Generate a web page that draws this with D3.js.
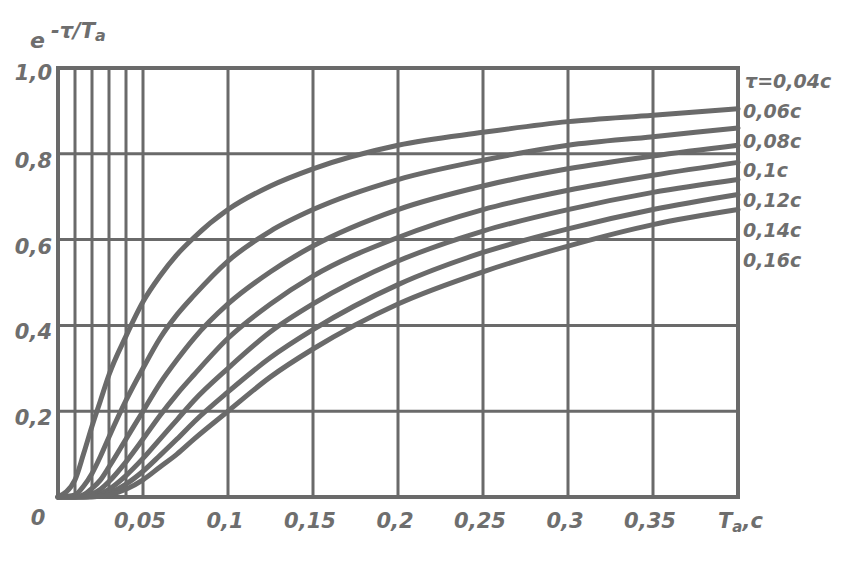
<!DOCTYPE html>
<html>
<head>
<meta charset="utf-8">
<script src="https://cdn.jsdelivr.net/npm/d3@7/dist/d3.min.js"></script>
<style>
  html, body { margin: 0; padding: 0; background: #fff; }
  svg text { font-family: "DejaVu Sans", sans-serif; font-style: italic; font-weight: bold; fill: #6e6e6e; }
</style>
</head>
<body>
<svg id="chart" width="866" height="564"></svg>
<script>
// ---- data ----
const ta = [0, 0.01, 0.015, 0.02, 0.025, 0.03, 0.04, 0.05, 0.06, 0.07, 0.08, 0.1, 0.125, 0.15, 0.2, 0.25, 0.3, 0.35, 0.4];
const tau004 = [0, 0.04, 0.10, 0.165, 0.225, 0.285, 0.375, 0.455, 0.515, 0.565, 0.605, 0.67, 0.725, 0.765, 0.82, 0.85, 0.875, 0.89, 0.905];
const tau006 = [0, 0.005, 0.025, 0.055, 0.095, 0.14, 0.225, 0.30, 0.37, 0.425, 0.47, 0.55, 0.62, 0.67, 0.74, 0.785, 0.82, 0.84, 0.86];
const tau008 = [0, 0, 0.005, 0.02, 0.04, 0.07, 0.135, 0.20, 0.265, 0.32, 0.37, 0.45, 0.525, 0.585, 0.67, 0.725, 0.765, 0.795, 0.82];
const tau010 = [0, 0, 0.001, 0.007, 0.018, 0.036, 0.082, 0.135, 0.19, 0.24, 0.285, 0.37, 0.45, 0.515, 0.605, 0.67, 0.715, 0.75, 0.78];
const tau012 = [0, 0, 0, 0.002, 0.008, 0.018, 0.05, 0.09, 0.135, 0.18, 0.225, 0.30, 0.385, 0.45, 0.55, 0.62, 0.67, 0.71, 0.74];
const tau014 = [0, 0, 0, 0.001, 0.004, 0.009, 0.03, 0.06, 0.097, 0.135, 0.175, 0.245, 0.325, 0.39, 0.495, 0.57, 0.625, 0.67, 0.705];
const tau016 = [0, 0, 0, 0, 0.002, 0.005, 0.018, 0.04, 0.07, 0.10, 0.135, 0.20, 0.28, 0.345, 0.45, 0.525, 0.585, 0.635, 0.67];
const seriesValues = [tau004, tau006, tau008, tau010, tau012, tau014, tau016];
const seriesLabels = ["τ=0,04c", "0,06c", "0,08c", "0,1c", "0,12c", "0,14c", "0,16c"];

const xGridMinor = [0.01, 0.02, 0.03, 0.04];
const xTicks = [0.05, 0.1, 0.15, 0.2, 0.25, 0.3, 0.35];
const xTickLabels = ["0,05", "0,1", "0,15", "0,2", "0,25", "0,3", "0,35"];
const yTicks = [0.2, 0.4, 0.6, 0.8, 1.0];
const yTickLabels = ["0,2", "0,4", "0,6", "0,8", "1,0"];

// ---- layout ----
const svg = d3.select("#chart");
const m = { left: 58, top: 68, right: 738, bottom: 497 };
const x = d3.scaleLinear().domain([0, 0.4]).range([m.left, m.right]);
const y = d3.scaleLinear().domain([0, 1]).range([m.bottom, m.top]);
const ink = "#6a6a6a";

// grid
const grid = svg.append("g").attr("stroke", ink).attr("stroke-width", 3).attr("fill", "none");
grid.selectAll("line.vminor").data(xGridMinor).join("line")
  .attr("x1", d => x(d)).attr("x2", d => x(d)).attr("y1", y(0)).attr("y2", y(1));
grid.selectAll("line.vmajor").data(xTicks).join("line")
  .attr("class", "vmajor")
  .attr("x1", d => x(d)).attr("x2", d => x(d)).attr("y1", y(0)).attr("y2", y(1));
grid.selectAll("line.h").data(yTicks.filter(d => d < 1)).join("line")
  .attr("class", "h")
  .attr("x1", x(0)).attr("x2", x(0.4)).attr("y1", d => y(d)).attr("y2", d => y(d));
svg.append("rect")
  .attr("x", x(0)).attr("y", y(1))
  .attr("width", x(0.4) - x(0)).attr("height", y(0) - y(1))
  .attr("fill", "none").attr("stroke", ink).attr("stroke-width", 4);

// curves
const line = d3.line()
  .x((d, i) => x(ta[i]))
  .y(d => y(d))
  .curve(d3.curveMonotoneX);
svg.append("g").selectAll("path").data(seriesValues).join("path")
  .attr("d", d => line(d))
  .attr("fill", "none").attr("stroke", ink).attr("stroke-width", 5)
  .attr("stroke-linecap", "round");

// x tick labels
svg.append("g").selectAll("text").data(xTicks).join("text")
  .attr("x", d => x(d) - 3).attr("y", 528)
  .attr("text-anchor", "middle").attr("font-size", 21)
  .text((d, i) => xTickLabels[i]);
svg.append("text").attr("x", 38).attr("y", 525).attr("text-anchor", "middle")
  .attr("font-size", 21).text("0");
const xt = svg.append("text").attr("x", x(0.4) - 20).attr("y", 528).attr("font-size", 21);
xt.append("tspan").text("T");
xt.append("tspan").attr("font-size", 15).attr("dy", 4).text("a");
xt.append("tspan").attr("dy", -4).text(",c");

// y tick labels
svg.append("g").selectAll("text").data(yTicks).join("text")
  .attr("x", 52).attr("y", (d, i) => y(d) + 14 - (d === 1 ? 2 : 0))
  .attr("text-anchor", "end").attr("font-size", 21)
  .text((d, i) => yTickLabels[i]);

// y title e^{-τ/Ta}
const yt = svg.append("text").attr("x", 30).attr("y", 48).attr("font-size", 22);
yt.append("tspan").text("e");
yt.append("tspan").attr("dx", 6).attr("dy", -10).attr("font-size", 21).text("-τ/T");
yt.append("tspan").attr("dy", 3).attr("font-size", 16).text("a");

// series labels at right
svg.append("g").selectAll("text").data(seriesLabels).join("text")
  .attr("x", (d, i) => i === 0 ? 745 : 743)
  .attr("y", (d, i) => 88 + i * 29.8)
  .attr("font-size", 19)
  .text(d => d);
</script>
</body>
</html>
